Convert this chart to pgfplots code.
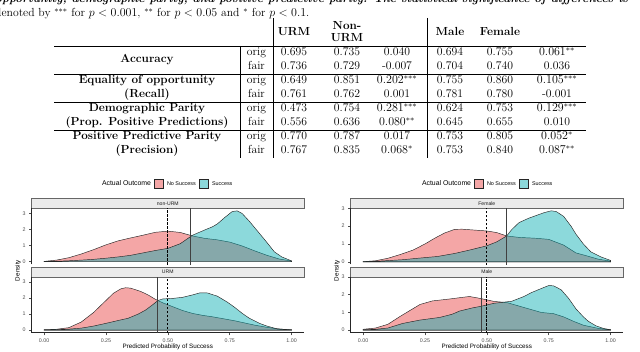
\documentclass[border=0pt]{standalone}
\usepackage{fontspec}
\usepackage{pgfplots}
\pgfplotsset{compat=1.18}
\newfontfamily\plotfont{Liberation Sans}
\definecolor{pinkc}{RGB}{237,107,107}
\definecolor{cyanc}{RGB}{0,170,175}
\definecolor{stripc}{RGB}{235,235,235}
\newcommand\tabf{\fontsize{11.7}{14}\selectfont}
% one table row: baseline y, orig/fair, six values
\newcommand\Row[8]{%
  \node[anchor=base] at (256.5,#1) {#2};
  \node[anchor=base] at (294,#1) {#3};
  \node[anchor=base] at (347,#1) {#4};
  \node[anchor=base] at (397,#1) {#5};
  \node[anchor=base] at (450,#1) {#6};
  \node[anchor=base] at (500,#1) {#7};
  \node[anchor=base] at (557,#1) {#8};}
\pgfplotsset{
  dens/.style={scale only axis, width=272.3pt, anchor=south west,
    xmin=-0.05, xmax=1.05,
    axis y line*=left,
    ytick={0,1,2,3}, yticklabels={0,1,2,3},
    tick align=outside, major tick length=2.7pt,
    tick style={black!70, line width=0.5pt},
    axis line style={-, black!85, line width=0.6pt},
    ticklabel style={font=\plotfont\fontsize{5.3}{6}\selectfont, text=black!70},
    clip=true},
  toppanel/.style={dens, axis x line=none, xtick=\empty},
  botpanel/.style={dens, axis x line*=bottom,
    xtick={0,0.25,0.5,0.75,1}, xticklabels={0.00,0.25,0.50,0.75,1.00}},
  nosucc/.style={fill=pinkc, fill opacity=0.6, draw=black!85, line width=0.45pt},
  succ/.style={fill=cyanc, fill opacity=0.45, draw=black!85, line width=0.45pt},
  cut/.style={black, line width=0.8pt, dash pattern=on 2.5pt off 1.5pt},
  thr/.style={black!75, line width=0.6pt}
}
\begin{document}
\begin{tikzpicture}
\useasboundingbox (0,0) rectangle (640pt,351pt);
\clip (0,0) rectangle (640pt,351pt);
\begin{scope}[x=1pt, y=1pt, every node/.style={inner sep=0pt, outer sep=0pt, font=\tabf}]
% caption lines
\node[anchor=base west, font=\tabf\bfseries\itshape] at (-4.8,348.4) {opportunity, demographic parity, and positive predictive parity. The statistical significance of differences is};
\node[anchor=base west] at (-4.8,334.5) {denoted by $^{***}$ for $p<0.001$, $^{**}$ for $p<0.05$ and $^{*}$ for $p<0.1$.};
% table header
\node[anchor=base] at (294,315.5) {\bfseries URM};
\node[anchor=base] at (347,321) {\bfseries Non-};
\node[anchor=base] at (347,309) {\bfseries URM};
\node[anchor=base] at (397,315.5) {$\mathbf{\Delta}$};
\node[anchor=base] at (450,315.5) {\bfseries Male};
\node[anchor=base] at (500,315.5) {\bfseries Female};
\node[anchor=base] at (557,315.5) {$\mathbf{\Delta}$};
% row labels
\node[anchor=base] at (147,288) {\bfseries Accuracy};
\node[anchor=base] at (147,267) {\bfseries Equality of opportunity};
\node[anchor=base] at (147,253) {\bfseries (Recall)};
\node[anchor=base] at (147,239) {\bfseries Demographic Parity};
\node[anchor=base] at (147,225) {\bfseries (Prop. Positive Predictions)};
\node[anchor=base] at (147,211) {\bfseries Positive Predictive Parity};
\node[anchor=base] at (147,197) {\bfseries (Precision)};
% values
\Row{295}{orig}{0.695}{0.735}{0.040}{0.694}{0.755}{$0.061^{**}$}
\Row{281}{fair}{0.736}{0.729}{-0.007}{0.704}{0.740}{0.036}
\Row{267}{orig}{0.649}{0.851}{$0.202^{***}$}{0.755}{0.860}{$0.105^{***}$}
\Row{253}{fair}{0.761}{0.762}{0.001}{0.781}{0.780}{-0.001}
\Row{239}{orig}{0.473}{0.754}{$0.281^{***}$}{0.624}{0.753}{$0.129^{***}$}
\Row{225}{fair}{0.556}{0.636}{$0.080^{**}$}{0.645}{0.655}{0.010}
\Row{211}{orig}{0.770}{0.787}{0.017}{0.753}{0.805}{$0.052^{*}$}
\Row{197}{fair}{0.767}{0.835}{$0.068^{*}$}{0.753}{0.840}{$0.087^{**}$}
% rules
\draw[line width=0.9pt] (54,305)--(586,305);
\draw[line width=0.5pt] (54,277)--(586,277) (54,249)--(586,249) (54,221)--(586,221);
\draw[line width=0.5pt] (240,305)--(240,193) (273,333)--(273,193) (427,333)--(427,193);
% legends
\foreach \dx in {0,320}{
  \node[anchor=base west, font=\plotfont\fontsize{6.9}{8}\selectfont] at (102+\dx,165.2) {Actual Outcome};
  \draw[fill=pinkc, fill opacity=0.6, draw=black!85, line width=0.45pt] (154+\dx,163) rectangle (163.3+\dx,171.7);
  \node[anchor=base west, font=\plotfont\fontsize{5.4}{6}\selectfont] at (167+\dx,165.6) {No Success};
  \draw[fill=cyanc, fill opacity=0.45, draw=black!85, line width=0.45pt] (199+\dx,163) rectangle (208.3+\dx,171.7);
  \node[anchor=base west, font=\plotfont\fontsize{5.4}{6}\selectfont] at (212+\dx,165.6) {Success};
}
% strips
\foreach \dx/\ta/\tb in {0/non-URM/URM, 319/Female/Male}{
  \draw[fill=stripc, draw=black!60, line width=0.5pt] (31.7+\dx,142.7) rectangle (304+\dx,152.3);
  \node[font=\plotfont\fontsize{5.1}{6}\selectfont, text=black!90] at (167.8+\dx,147.5) {\ta};
  \draw[fill=stripc, draw=black!60, line width=0.5pt] (31.7+\dx,74) rectangle (304+\dx,83.7);
  \node[font=\plotfont\fontsize{5.1}{6}\selectfont, text=black!90] at (167.8+\dx,78.9) {\tb};
  \node[font=\plotfont\fontsize{6.3}{7}\selectfont] at (167.8+\dx,4.3) {Predicted Probability of Success};
  \node[font=\plotfont\fontsize{6.3}{7}\selectfont, rotate=90] at (18+\dx,80.5) {Density};
}
\end{scope}

% ---- left: non-URM
\begin{axis}[toppanel, at={(31.7pt,86.6pt)}, height=56.1pt, ymin=-0.166, ymax=3.32]
\addplot[nosucc] coordinates {(0,0.02)(0.05,0.1)(0.1,0.25)(0.15,0.48)(0.2,0.75)(0.25,1.05)(0.3,1.3)(0.35,1.48)(0.4,1.65)(0.45,1.83)(0.5,1.9)(0.55,1.82)(0.6,1.6)(0.65,1.45)(0.7,1.36)(0.75,1.22)(0.8,0.98)(0.85,0.68)(0.9,0.4)(0.95,0.17)(1.0,0.04)} \closedcycle;
\addplot[succ] coordinates {(0,0.01)(0.05,0.03)(0.1,0.06)(0.15,0.1)(0.2,0.15)(0.25,0.22)(0.3,0.3)(0.35,0.4)(0.4,0.55)(0.45,0.7)(0.5,0.83)(0.55,1.12)(0.6,1.65)(0.65,1.98)(0.68,2.17)(0.7,2.35)(0.73,2.75)(0.76,3.12)(0.78,3.16)(0.8,3.0)(0.83,2.5)(0.87,1.76)(0.9,1.2)(0.93,0.62)(0.96,0.3)(1.0,0.05)} \closedcycle;
\addplot[cut] coordinates {(0.5,-0.2)(0.5,3.4)};
\addplot[thr] coordinates {(0.59,-0.2)(0.59,3.4)};
\end{axis}
% ---- left: URM
\begin{axis}[botpanel, at={(31.7pt,18.3pt)}, height=55.7pt, ymin=-0.166, ymax=3.32]
\addplot[nosucc] coordinates {(0,0.02)(0.05,0.05)(0.1,0.15)(0.15,0.5)(0.2,1.1)(0.25,1.85)(0.28,2.3)(0.31,2.58)(0.33,2.65)(0.35,2.62)(0.39,2.42)(0.42,2.2)(0.45,1.92)(0.48,1.7)(0.52,1.46)(0.56,1.22)(0.6,1.04)(0.64,0.92)(0.68,0.83)(0.72,0.72)(0.77,0.58)(0.85,0.31)(0.9,0.17)(0.95,0.06)(1.0,0.02)} \closedcycle;
\addplot[succ] coordinates {(0,0.01)(0.05,0.02)(0.1,0.06)(0.15,0.12)(0.2,0.25)(0.25,0.42)(0.3,0.6)(0.34,0.74)(0.38,1.0)(0.41,1.25)(0.44,1.6)(0.46,1.85)(0.48,1.95)(0.52,1.98)(0.56,2.05)(0.6,2.2)(0.63,2.33)(0.66,2.32)(0.7,2.12)(0.74,1.75)(0.77,1.42)(0.8,1.05)(0.83,0.73)(0.87,0.42)(0.9,0.25)(0.94,0.08)(1.0,0.01)} \closedcycle;
\addplot[thr] coordinates {(0.459,-0.2)(0.459,3.4)};
\addplot[cut] coordinates {(0.5,-0.2)(0.5,3.4)};
\end{axis}
% ---- right: Female
\begin{axis}[toppanel, at={(350.7pt,86.6pt)}, height=56.1pt, ymin=-0.143, ymax=3.0]
\addplot[nosucc] coordinates {(0,0.01)(0.05,0.06)(0.1,0.2)(0.15,0.41)(0.2,0.65)(0.25,1.0)(0.29,1.33)(0.33,1.62)(0.37,1.82)(0.4,1.83)(0.45,1.78)(0.5,1.73)(0.54,1.64)(0.58,1.45)(0.63,1.37)(0.7,1.32)(0.75,1.26)(0.81,0.94)(0.86,0.5)(0.9,0.35)(0.95,0.15)(1.0,0.04)} \closedcycle;
\addplot[succ] coordinates {(0,0.01)(0.05,0.03)(0.1,0.07)(0.16,0.12)(0.22,0.2)(0.3,0.3)(0.37,0.47)(0.43,0.66)(0.5,0.9)(0.54,1.12)(0.58,1.45)(0.6,1.8)(0.63,2.2)(0.67,2.45)(0.7,2.6)(0.73,2.75)(0.76,2.86)(0.78,2.82)(0.81,2.55)(0.84,2.0)(0.86,1.55)(0.89,1.0)(0.92,0.56)(0.96,0.28)(1.0,0.08)} \closedcycle;
\addplot[cut] coordinates {(0.5,-0.2)(0.5,3.4)};
\addplot[thr] coordinates {(0.58,-0.2)(0.58,3.4)};
\end{axis}
% ---- right: Male
\begin{axis}[botpanel, at={(350.7pt,18.3pt)}, height=55.7pt, ymin=-0.143, ymax=3.0]
\addplot[nosucc] coordinates {(0,0.05)(0.05,0.12)(0.1,0.33)(0.15,0.78)(0.2,1.2)(0.23,1.45)(0.28,1.65)(0.35,1.76)(0.4,1.85)(0.43,1.9)(0.47,1.8)(0.53,1.62)(0.58,1.56)(0.62,1.4)(0.67,1.2)(0.72,1.0)(0.77,0.93)(0.81,0.75)(0.85,0.5)(0.89,0.28)(0.95,0.1)(1.0,0.03)} \closedcycle;
\addplot[succ] coordinates {(0,0.02)(0.05,0.05)(0.1,0.12)(0.16,0.38)(0.23,0.57)(0.31,0.72)(0.36,0.9)(0.39,1.08)(0.44,1.25)(0.48,1.36)(0.53,1.52)(0.6,1.63)(0.65,1.9)(0.68,2.12)(0.72,2.35)(0.75,2.52)(0.77,2.5)(0.8,2.28)(0.83,1.8)(0.86,1.2)(0.89,0.75)(0.91,0.5)(0.94,0.25)(0.97,0.1)(1.0,0.02)} \closedcycle;
\addplot[thr] coordinates {(0.478,-0.2)(0.478,3.4)};
\addplot[cut] coordinates {(0.5,-0.2)(0.5,3.4)};
\end{axis}
\end{tikzpicture}
\end{document}
